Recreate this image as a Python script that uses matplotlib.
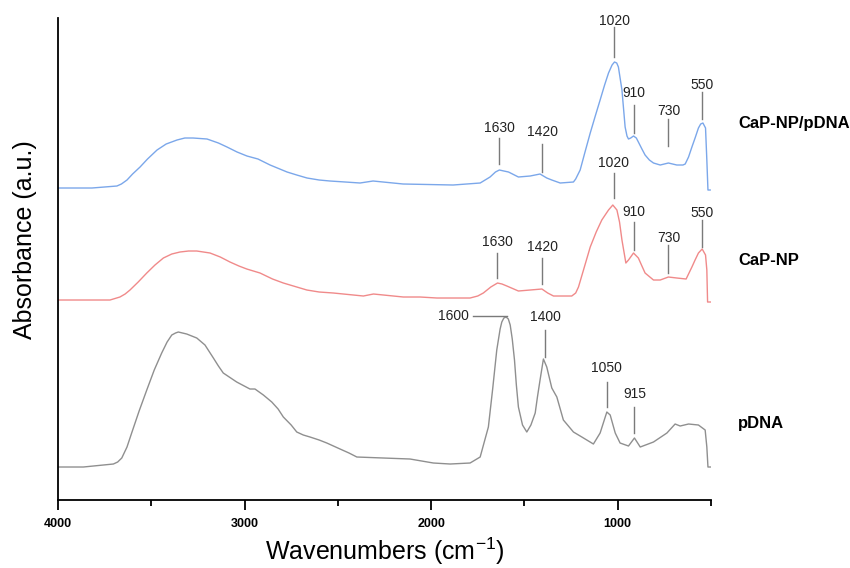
import matplotlib
matplotlib.use("Agg")
import matplotlib.pyplot as plt
from matplotlib.ticker import FixedLocator

plt.rcParams['font.family'] = ['Liberation Sans', 'DejaVu Sans']
plt.rcParams['mathtext.default'] = 'regular'

# wavenumber (cm-1) / absorbance (a.u., relative to each trace's own baseline)
wn_hybrid = [4000, 3818, 3684, 3660, 3630, 3600, 3560, 3520, 3469, 3420, 3362, 3320,
             3276, 3201, 3140, 3094, 3040, 2987, 2928, 2863, 2772, 2720, 2665, 2600,
             2542, 2460, 2381, 2311, 2150, 1882, 1737, 1684, 1655, 1634, 1610, 1585,
             1532, 1469, 1416, 1380, 1353, 1308, 1237, 1225, 1201, 1175, 1147, 1120,
             1094, 1070, 1049, 1030, 1017, 1005, 996, 977, 960, 950, 942, 930, 915,
             900, 889, 870, 853, 830, 808, 772, 728, 683, 650, 638, 620, 602, 585, 567,
             555, 543, 529, 522, 516, 504]
abs_hybrid = [0.00, 0.00, 0.02, 0.04, 0.08, 0.14, 0.21, 0.29, 0.38, 0.44, 0.48, 0.50,
              0.50, 0.49, 0.45, 0.41, 0.36, 0.32, 0.29, 0.23, 0.16, 0.13, 0.10, 0.08,
              0.07, 0.06, 0.05, 0.07, 0.04, 0.03, 0.05, 0.11, 0.16, 0.18, 0.17, 0.16,
              0.11, 0.12, 0.14, 0.10, 0.08, 0.05, 0.06, 0.09, 0.18, 0.36, 0.55, 0.72,
              0.88, 1.03, 1.15, 1.23, 1.26, 1.25, 1.21, 0.98, 0.61, 0.52, 0.49, 0.50,
              0.52, 0.50, 0.46, 0.39, 0.33, 0.28, 0.25, 0.23, 0.25, 0.23, 0.23, 0.24,
              0.31, 0.41, 0.50, 0.60, 0.64, 0.65, 0.60, 0.28, -0.02, -0.02]

wn_np = [4000, 3721, 3668, 3640, 3614, 3570, 3524, 3480, 3435, 3390, 3346, 3300, 3256,
         3185, 3130, 3078, 3030, 2988, 2917, 2850, 2792, 2720, 2666, 2600, 2524, 2363,
         2309, 2149, 2059, 1969, 1791, 1750, 1720, 1680, 1644, 1620, 1594, 1532, 1469,
         1406, 1375, 1344, 1246, 1225, 1210, 1180, 1147, 1115, 1085, 1049, 1026, 1004,
         990, 977, 956, 942, 915, 889, 870, 853, 808, 772, 728, 683, 633, 602, 585, 567,
         547, 529, 522, 518, 500]
abs_np = [0.00, 0.00, 0.03, 0.06, 0.10, 0.18, 0.27, 0.35, 0.42, 0.46, 0.48, 0.49, 0.49,
          0.47, 0.43, 0.38, 0.34, 0.31, 0.27, 0.21, 0.17, 0.13, 0.10, 0.08, 0.07, 0.04,
          0.06, 0.03, 0.03, 0.02, 0.02, 0.04, 0.07, 0.13, 0.17, 0.16, 0.14, 0.09, 0.10,
          0.11, 0.07, 0.04, 0.04, 0.07, 0.13, 0.32, 0.53, 0.68, 0.80, 0.90, 0.95, 0.90,
          0.78, 0.60, 0.37, 0.40, 0.47, 0.42, 0.34, 0.27, 0.20, 0.20, 0.23, 0.22, 0.21,
          0.33, 0.40, 0.47, 0.51, 0.45, 0.30, -0.02, -0.02]

wn_dna = [4000, 3864, 3703, 3680, 3658, 3630, 3605, 3565, 3524, 3484, 3444, 3415, 3390,
          3370, 3355, 3310, 3256, 3212, 3167, 3140, 3114, 3042, 2971, 2944, 2899, 2854,
          2820, 2792, 2750, 2720, 2685, 2649, 2600, 2559, 2488, 2440, 2398, 2256, 2113,
          1988, 1898, 1791, 1737, 1693, 1670, 1648, 1630, 1621, 1610, 1598, 1586, 1576,
          1565, 1553, 1543, 1532, 1510, 1487, 1465, 1442, 1430, 1416, 1398, 1380, 1353,
          1326, 1291, 1237, 1192, 1130, 1094, 1058, 1040, 1013, 987, 942, 910, 879, 808,
          736, 692, 665, 620, 567, 531, 522, 516, 500]
abs_dna = [0.00, 0.00, 0.03, 0.05, 0.09, 0.20, 0.34, 0.56, 0.77, 0.97, 1.14, 1.25, 1.32,
           1.34, 1.35, 1.33, 1.29, 1.22, 1.09, 1.01, 0.94, 0.85, 0.78, 0.78, 0.72, 0.65,
           0.58, 0.50, 0.42, 0.35, 0.32, 0.30, 0.27, 0.24, 0.18, 0.14, 0.10, 0.09, 0.08,
           0.04, 0.03, 0.04, 0.10, 0.40, 0.78, 1.17, 1.38, 1.45, 1.49, 1.50, 1.48, 1.42,
           1.28, 1.07, 0.82, 0.60, 0.42, 0.35, 0.42, 0.54, 0.70, 0.87, 1.08, 1.00, 0.79,
           0.70, 0.47, 0.35, 0.30, 0.23, 0.34, 0.55, 0.52, 0.34, 0.24, 0.21, 0.29, 0.20,
           0.25, 0.34, 0.43, 0.41, 0.43, 0.42, 0.37, 0.20, 0.00, 0.00]

names = ['CaP-NP/pDNA', 'CaP-NP', 'pDNA']
offsets = [3.12, 2.00, 0.33]
colors = ['#7ba7ea', '#f08a8a', '#8f8f8f']

# peak marks: (wavenumber, label, line bottom, line top, text y)
marks = [
    (1634, '1630', 3.36, 3.62, 3.72), (1405, '1420', 3.28, 3.56, 3.68),
    (1017, '1020', 4.43, 4.73, 4.79), (915, '910', 3.67, 3.95, 4.07),
    (728, '730', 3.54, 3.81, 3.89), (549, '550', 3.81, 4.08, 4.15),
    (1645, '1630', 2.22, 2.47, 2.58), (1405, '1420', 2.16, 2.42, 2.53),
    (1022, '1020', 3.02, 3.27, 3.37), (915, '910', 2.50, 2.78, 2.88),
    (728, '730', 2.27, 2.55, 2.62), (549, '550', 2.53, 2.80, 2.87),
    (1389, '1400', 1.43, 1.70, 1.83), (1058, '1050', 0.93, 1.18, 1.32),
    (910, '915', 0.67, 0.93, 1.06),
]

fig = plt.figure(figsize=(8.5, 5.68), dpi=100)
ax = fig.add_axes([0.0682, 0.1197, 0.7682, 0.8486])

spectra = [(wn_hybrid, abs_hybrid), (wn_np, abs_np), (wn_dna, abs_dna)]
for (x, y), off, c in zip(spectra, offsets, colors):
    ax.plot(x, [v + off for v in y], color=c, lw=1.0)

for wn, lab, y0, y1, yt in marks:
    ax.plot([wn, wn], [y0, y1], color='#7a7a7a', lw=1.0)
    ax.text(wn, yt, lab, ha='center', va='center', fontsize=10, color='#222222')

# 1600 mark drawn sideways
ax.plot([1777, 1594], [1.84, 1.84], color='#7a7a7a', lw=1.0)
ax.text(1800, 1.845, '1600', ha='right', va='center', fontsize=10, color='#222222')

label_y = [3.77, 2.40, 0.77]
for name, ly in zip(names, label_y):
    ax.text(354, ly, name, ha='left', va='center', fontsize=12, fontweight='bold')

ax.set_xlim(4000, 500)
ax.set_ylim(0, 4.82)
ax.xaxis.set_major_locator(FixedLocator([4000, 3000, 2000, 1000]))
ax.xaxis.set_minor_locator(FixedLocator([3500, 2500, 1500, 500]))
ax.tick_params(axis='x', which='major', direction='out', length=7, width=1.3, pad=6)
ax.tick_params(axis='x', which='minor', direction='out', length=4, width=1.3)
for t in ax.get_xticklabels():
    t.set_fontweight('bold')
    t.set_fontsize(9)
ax.set_yticks([])

for s in ['top', 'right']:
    ax.spines[s].set_visible(False)
for s in ['left', 'bottom']:
    ax.spines[s].set_linewidth(1.3)

ax.set_xlabel('Wavenumbers (cm$^{-1}$)', fontsize=18, labelpad=4)
ax.set_ylabel('Absorbance (a.u.)', fontsize=18)
ax.yaxis.set_label_coords(-0.032, 0.541)

fig.savefig('out.png', dpi=100)
